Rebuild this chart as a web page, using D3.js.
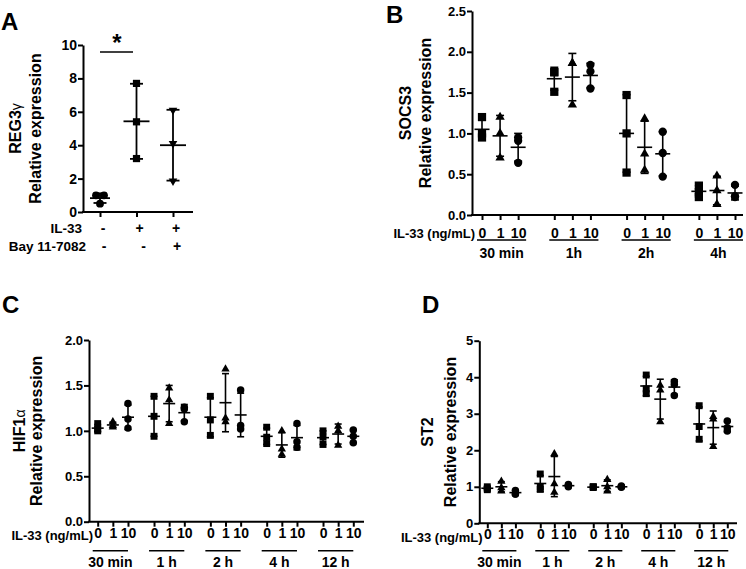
<!DOCTYPE html>
<html><head><meta charset="utf-8">
<script src="https://cdn.jsdelivr.net/npm/d3@7"></script>
<style>
body{margin:0;background:#fff;}
svg{display:block;font-family:"Liberation Sans",Arial,sans-serif;font-weight:bold;}
</style></head><body>
<script>
// ---------- Panel A : REG3γ ----------
const regCategories = ["ctrl", "IL-33", "IL-33 + Bay"];
const regIL33 = ["-", "+", "+"];
const regBay = ["-", "-", "+"];
const regPoints = [[1.0, 1.0, 0.5], [7.7, 5.4, 3.2], [6.1, 4.1, 1.85]];
const regMean = [0.83, 5.43, 4.0];
const regSd = [0.29, 2.25, 2.12];
const regShapes = ["circle", "square", "triangleDown"];
const regTicks = [0, 2, 4, 6, 8, 10];

// ---------- shared ----------
const doses = ["0", "1", "10"];
const doseShapes = ["square", "triangle", "circle"];

// ---------- Panel B : SOCS3 ----------
const socsTimes = ["30 min", "1h", "2h", "4h"];
const socsPoints = [
  [1.20, 1.00, 0.95], [1.20, 1.00, 0.70], [0.95, 0.91, 0.64],
  [1.75, 1.75, 1.51], [1.86, 1.86, 1.35], [1.84, 1.76, 1.55],
  [1.47, 1.00, 0.52], [1.18, 0.75, 0.55], [1.02, 0.76, 0.47],
  [0.36, 0.28, 0.22], [0.48, 0.30, 0.13], [0.37, 0.23, 0.22]];
const socsMean = [1.05, 0.97, 0.83, 1.67, 1.69, 1.71, 1.00, 0.83, 0.75, 0.29, 0.30, 0.27];
const socsSd = [0.13, 0.25, 0.17, 0.14, 0.29, 0.15, 0.475, 0.32, 0.27, 0.07, 0.175, 0.085];
const socsTicks = [0, 0.5, 1.0, 1.5, 2.0, 2.5];

// ---------- Panel C : HIF1α ----------
const hifTimes = ["30 min", "1 h", "2 h", "4 h", "12 h"];
const hifPoints = [
  [1.08, 1.02, 1.00], [1.10, 1.06, 1.04], [1.30, 1.13, 1.03],
  [1.38, 1.16, 0.94], [1.47, 1.34, 1.08], [1.26, 1.24, 1.10],
  [1.38, 1.12, 0.95], [1.68, 1.14, 1.10], [1.45, 1.06, 1.02],
  [1.04, 0.93, 0.86], [1.00, 0.80, 0.74], [1.08, 0.88, 0.82],
  [1.00, 0.93, 0.85], [1.05, 1.00, 0.84], [1.01, 0.94, 0.87]];
const hifMean = [1.03, 1.065, 1.15, 1.16, 1.30, 1.20, 1.15, 1.31, 1.175, 0.94, 0.845, 0.925, 0.925, 0.965, 0.94];
const hifSd = [0.04, 0.03, 0.135, 0.22, 0.20, 0.09, 0.215, 0.32, 0.24, 0.09, 0.135, 0.135, 0.075, 0.11, 0.07];
const hifTicks = [0, 0.5, 1.0, 1.5, 2.0];

// ---------- Panel D : ST2 ----------
const stTimes = ["30 min", "1 h", "2 h", "4 h", "12 h"];
const stPoints = [
  [1.00, 0.95, 0.92], [1.15, 0.97, 0.88], [0.90, 0.80, 0.80],
  [1.35, 1.00, 0.93], [1.90, 1.08, 0.85], [1.06, 1.03, 1.00],
  [1.00, 1.00, 0.98], [1.20, 1.00, 0.88], [1.02, 1.00, 0.99],
  [4.06, 3.68, 3.55], [3.78, 3.65, 2.78], [3.88, 3.80, 3.50],
  [3.22, 2.65, 2.30], [2.92, 2.85, 2.10], [2.80, 2.62, 2.53]];
const stMean = [0.96, 1.00, 0.84, 1.09, 1.28, 1.03, 0.99, 1.03, 1.00, 3.76, 3.40, 3.73, 2.72, 2.62, 2.65];
const stSd = [0.04, 0.14, 0.06, 0.22, 0.55, 0.03, 0.01, 0.16, 0.02, 0.265, 0.545, 0.20, 0.465, 0.455, 0.14];
const stTicks = [0, 1, 2, 3, 4, 5];

// ================= drawing =================
const svg = d3.select("body").append("svg").attr("width", 746).attr("height", 569);
const FONT = "Liberation Sans, Arial, sans-serif";

const symTypes = {square: d3.symbolSquare, triangle: d3.symbolTriangle, circle: d3.symbolCircle, triangleDown: d3.symbolTriangle};

function drawSymbol(g, shape, cx, cy, sizes) {
  const area = sizes[shape === "triangleDown" ? "triangle" : shape];
  g.append("path")
    .attr("d", d3.symbol(symTypes[shape], area)())
    .attr("transform", `translate(${cx},${cy})` + (shape === "triangleDown" ? " rotate(180)" : ""))
    .attr("fill", "#000");
}

function drawErr(g, cx, y, mean, sd, meanW, capW, sw) {
  const lo = y(mean - sd), hi = y(mean + sd), m = y(mean);
  const st = s => s.attr("stroke", "#000").attr("stroke-width", sw);
  st(g.append("line").attr("x1", cx).attr("x2", cx).attr("y1", lo).attr("y2", hi));
  st(g.append("line").attr("x1", cx - capW / 2).attr("x2", cx + capW / 2).attr("y1", lo).attr("y2", lo));
  st(g.append("line").attr("x1", cx - capW / 2).attr("x2", cx + capW / 2).attr("y1", hi).attr("y2", hi));
  st(g.append("line").attr("x1", cx - meanW / 2).attr("x2", cx + meanW / 2).attr("y1", m).attr("y2", m));
}

function yAxis(g, y, axisX, ticks, fmt, fs) {
  const ax = g.append("g").attr("transform", `translate(${axisX},0)`)
    .call(d3.axisLeft(y).tickValues(ticks).tickFormat(fmt).tickSize(5).tickSizeOuter(0).tickPadding(1));
  ax.select(".domain").attr("stroke-width", 2);
  ax.selectAll(".tick line").attr("stroke-width", 2);
  ax.selectAll("text").attr("font-size", fs).attr("font-weight", "bold").attr("font-family", FONT).attr("fill", "#000");
}

function yLabel(g, cx1, cx2, cy, gene, greek) {
  const t1 = g.append("text").attr("transform", `translate(${cx1},${cy}) rotate(-90)`)
    .attr("text-anchor", "middle").attr("dy", "0.36em").attr("font-size", 16);
  t1.append("tspan").text(gene);
  if (greek) t1.append("tspan").attr("font-size", 14).attr("font-weight", "normal").text(greek);
  g.append("text").attr("transform", `translate(${cx2},${cy}) rotate(-90)`)
    .attr("text-anchor", "middle").attr("dy", "0.36em").attr("font-size", 16).text("Relative expression");
}

function panelLetter(x, y, L) {
  svg.append("text").attr("x", x).attr("y", y).attr("font-size", 24).text(L);
}

// ---- time-course panel ----
function timePanel(cfg) {
  const g = svg.append("g");
  const nT = cfg.times.length;
  const slot = (t, d) => t * cfg.gap + d;
  const x = d3.scaleLinear().domain([0, slot(nT - 1, 2)]).range([cfg.xFirst, cfg.xLast]);
  const y = d3.scaleLinear().domain([0, cfg.ticks[cfg.ticks.length - 1]]).range([cfg.y0, cfg.yTop]);

  yAxis(g, y, cfg.axisX, cfg.ticks, cfg.fmt, 13);

  // x axis
  g.append("line").attr("x1", cfg.axisX - 1).attr("x2", cfg.xEnd).attr("y1", cfg.y0).attr("y2", cfg.y0)
    .attr("stroke", "#000").attr("stroke-width", 2);
  const slots = [];
  cfg.times.forEach((t, ti) => doses.forEach((d, di) => slots.push({ti, di, s: slot(ti, di)})));
  const xa = g.append("g").attr("transform", `translate(0,${cfg.y0})`)
    .call(d3.axisBottom(x).tickValues(slots.map(o => o.s)).tickFormat((v, i) => doses[slots[i].di])
      .tickSize(5).tickSizeOuter(0).tickPadding(cfg.tickPad));
  xa.select(".domain").remove();
  xa.selectAll(".tick line").attr("stroke-width", 2);
  xa.selectAll("text").attr("font-size", 14).attr("font-weight", "bold").attr("fill", "#000")
    .attr("font-family", FONT);

  g.append("text").attr("x", cfg.il33X).attr("y", cfg.y0 + cfg.il33Dy).attr("text-anchor", "end")
    .attr("font-size", 13).text("IL-33 (ng/mL)");

  cfg.times.forEach((t, ti) => {
    const a = x(slot(ti, 0)) - cfg.ulL, b = x(slot(ti, 2)) + cfg.ulR;
    g.append("line").attr("x1", a).attr("x2", b).attr("y1", cfg.y0 + cfg.ulDy).attr("y2", cfg.y0 + cfg.ulDy)
      .attr("stroke", "#000").attr("stroke-width", 1.5);
    g.append("text").attr("x", (a + b) / 2).attr("y", cfg.y0 + cfg.ulDy + cfg.grpDy)
      .attr("text-anchor", "middle").attr("font-size", 14).text(t);
  });

  // data
  const dg = g.append("g");
  cfg.points.forEach((pts, i) => {
    const ti = Math.floor(i / 3), di = i % 3;
    const cx = x(slot(ti, di));
    pts.forEach(v => drawSymbol(dg, doseShapes[di], cx, y(v), cfg.sizes));
    drawErr(dg, cx, y, cfg.mean[i], cfg.sd[i], cfg.meanW, cfg.capW, 1.6);
  });

  yLabel(g, cfg.lab1X, cfg.lab2X, (cfg.y0 + cfg.yTop) / 2, cfg.gene, cfg.greek);
}

// ---- Panel A ----
(function () {
  const g = svg.append("g");
  const axisX = 83, y0 = 212, yTop = 45;
  const x = d3.scalePoint().domain(regCategories).range([100, 173]);
  const y = d3.scaleLinear().domain([0, 10]).range([y0, yTop]);
  yAxis(g, y, axisX, regTicks, d3.format("d"), 14);
  g.append("line").attr("x1", axisX - 1).attr("x2", 193).attr("y1", y0).attr("y2", y0)
    .attr("stroke", "#000").attr("stroke-width", 2);
  const xa = g.append("g").attr("transform", `translate(0,${y0})`)
    .call(d3.axisBottom(x).tickFormat("").tickSize(5).tickSizeOuter(0));
  xa.select(".domain").remove();
  xa.selectAll(".tick line").attr("stroke-width", 2);

  g.append("text").attr("x", 82).attr("y", 233).attr("text-anchor", "end").attr("font-size", 13.5).text("IL-33");
  g.append("text").attr("x", 86).attr("y", 251).attr("text-anchor", "end").attr("font-size", 13.5).text("Bay 11-7082");
  regCategories.forEach((c, i) => {
    g.append("text").attr("x", x(c) + 3).attr("y", 233).attr("text-anchor", "middle").attr("font-size", 14).text(regIL33[i]);
    g.append("text").attr("x", x(c) + 4 + (i === 1 ? 3 : 0)).attr("y", 251).attr("text-anchor", "middle").attr("font-size", 14).text(regBay[i]);
  });

  const sizes = {square: 52, circle: 48, triangle: 32};
  regPoints.forEach((pts, i) => {
    const cx = x(regCategories[i]);
    // spread points that would overlap
    const placed = [];
    pts.forEach(v => {
      const py = y(v);
      const near = placed.filter(p => Math.abs(p - py) < 7).length;
      const crowd = pts.filter(w => Math.abs(y(w) - py) < 7).length;
      const dx = crowd > 1 ? (near === 0 ? -4 : 4) : 0;
      placed.push(py);
      drawSymbol(g, regShapes[i], cx + dx, py, sizes);
    });
    drawErr(g, cx, y, regMean[i], regSd[i], i === 0 ? 20 : 26, 13, 1.8);
  });

  // significance
  g.append("line").attr("x1", x(regCategories[0])).attr("x2", 133).attr("y1", 52).attr("y2", 52)
    .attr("stroke", "#000").attr("stroke-width", 1.6);
  g.append("text").attr("x", 117).attr("y", 51).attr("text-anchor", "middle").attr("font-size", 24).text("*");

  yLabel(g, 15, 35, (y0 + yTop) / 2, "REG3", "γ");
})();

timePanel({
  times: socsTimes, points: socsPoints, mean: socsMean, sd: socsSd, ticks: socsTicks,
  fmt: d3.format(".1f"), gap: 4, axisX: 472, y0: 215, yTop: 11, xFirst: 482, xLast: 735, xEnd: 743,
  tickPad: 8, il33X: 475, il33Dy: 22.5, ulDy: 25, ulL: 5, ulR: 8, grpDy: 18,
  sizes: {square: 68, circle: 54, triangle: 38}, meanW: 15, capW: 8,
  gene: "SOCS3", greek: null, lab1X: 405, lab2X: 425
});

timePanel({
  times: hifTimes, points: hifPoints, mean: hifMean, sd: hifSd, ticks: hifTicks,
  fmt: d3.format(".1f"), gap: 3.72, axisX: 89, y0: 521.7, yTop: 340, xFirst: 97.7, xLast: 353.3, xEnd: 364,
  tickPad: 1.5, il33X: 93, il33Dy: 18.5, ulDy: 29, ulL: 5, ulR: 0, grpDy: 16.5,
  sizes: {square: 48, circle: 44, triangle: 30}, meanW: 12, capW: 7,
  gene: "HIF1", greek: "α", lab1X: 19, lab2X: 36
});

timePanel({
  times: stTimes, points: stPoints, mean: stMean, sd: stSd, ticks: stTicks,
  fmt: d3.format("d"), gap: 3.77, axisX: 479.3, y0: 523.3, yTop: 340.7, xFirst: 487.3, xLast: 727.3, xEnd: 737,
  tickPad: 0.5, il33X: 482.5, il33Dy: 19, ulDy: 27.5, ulL: 5, ulR: 1, grpDy: 16.5,
  sizes: {square: 48, circle: 44, triangle: 30}, meanW: 12, capW: 7,
  gene: "ST2", greek: null, lab1X: 427, lab2X: 450
});

panelLetter(1, 30, "A");
panelLetter(386, 23, "B");
panelLetter(2, 313, "C");
panelLetter(422, 313, "D");
</script>
</body></html>
